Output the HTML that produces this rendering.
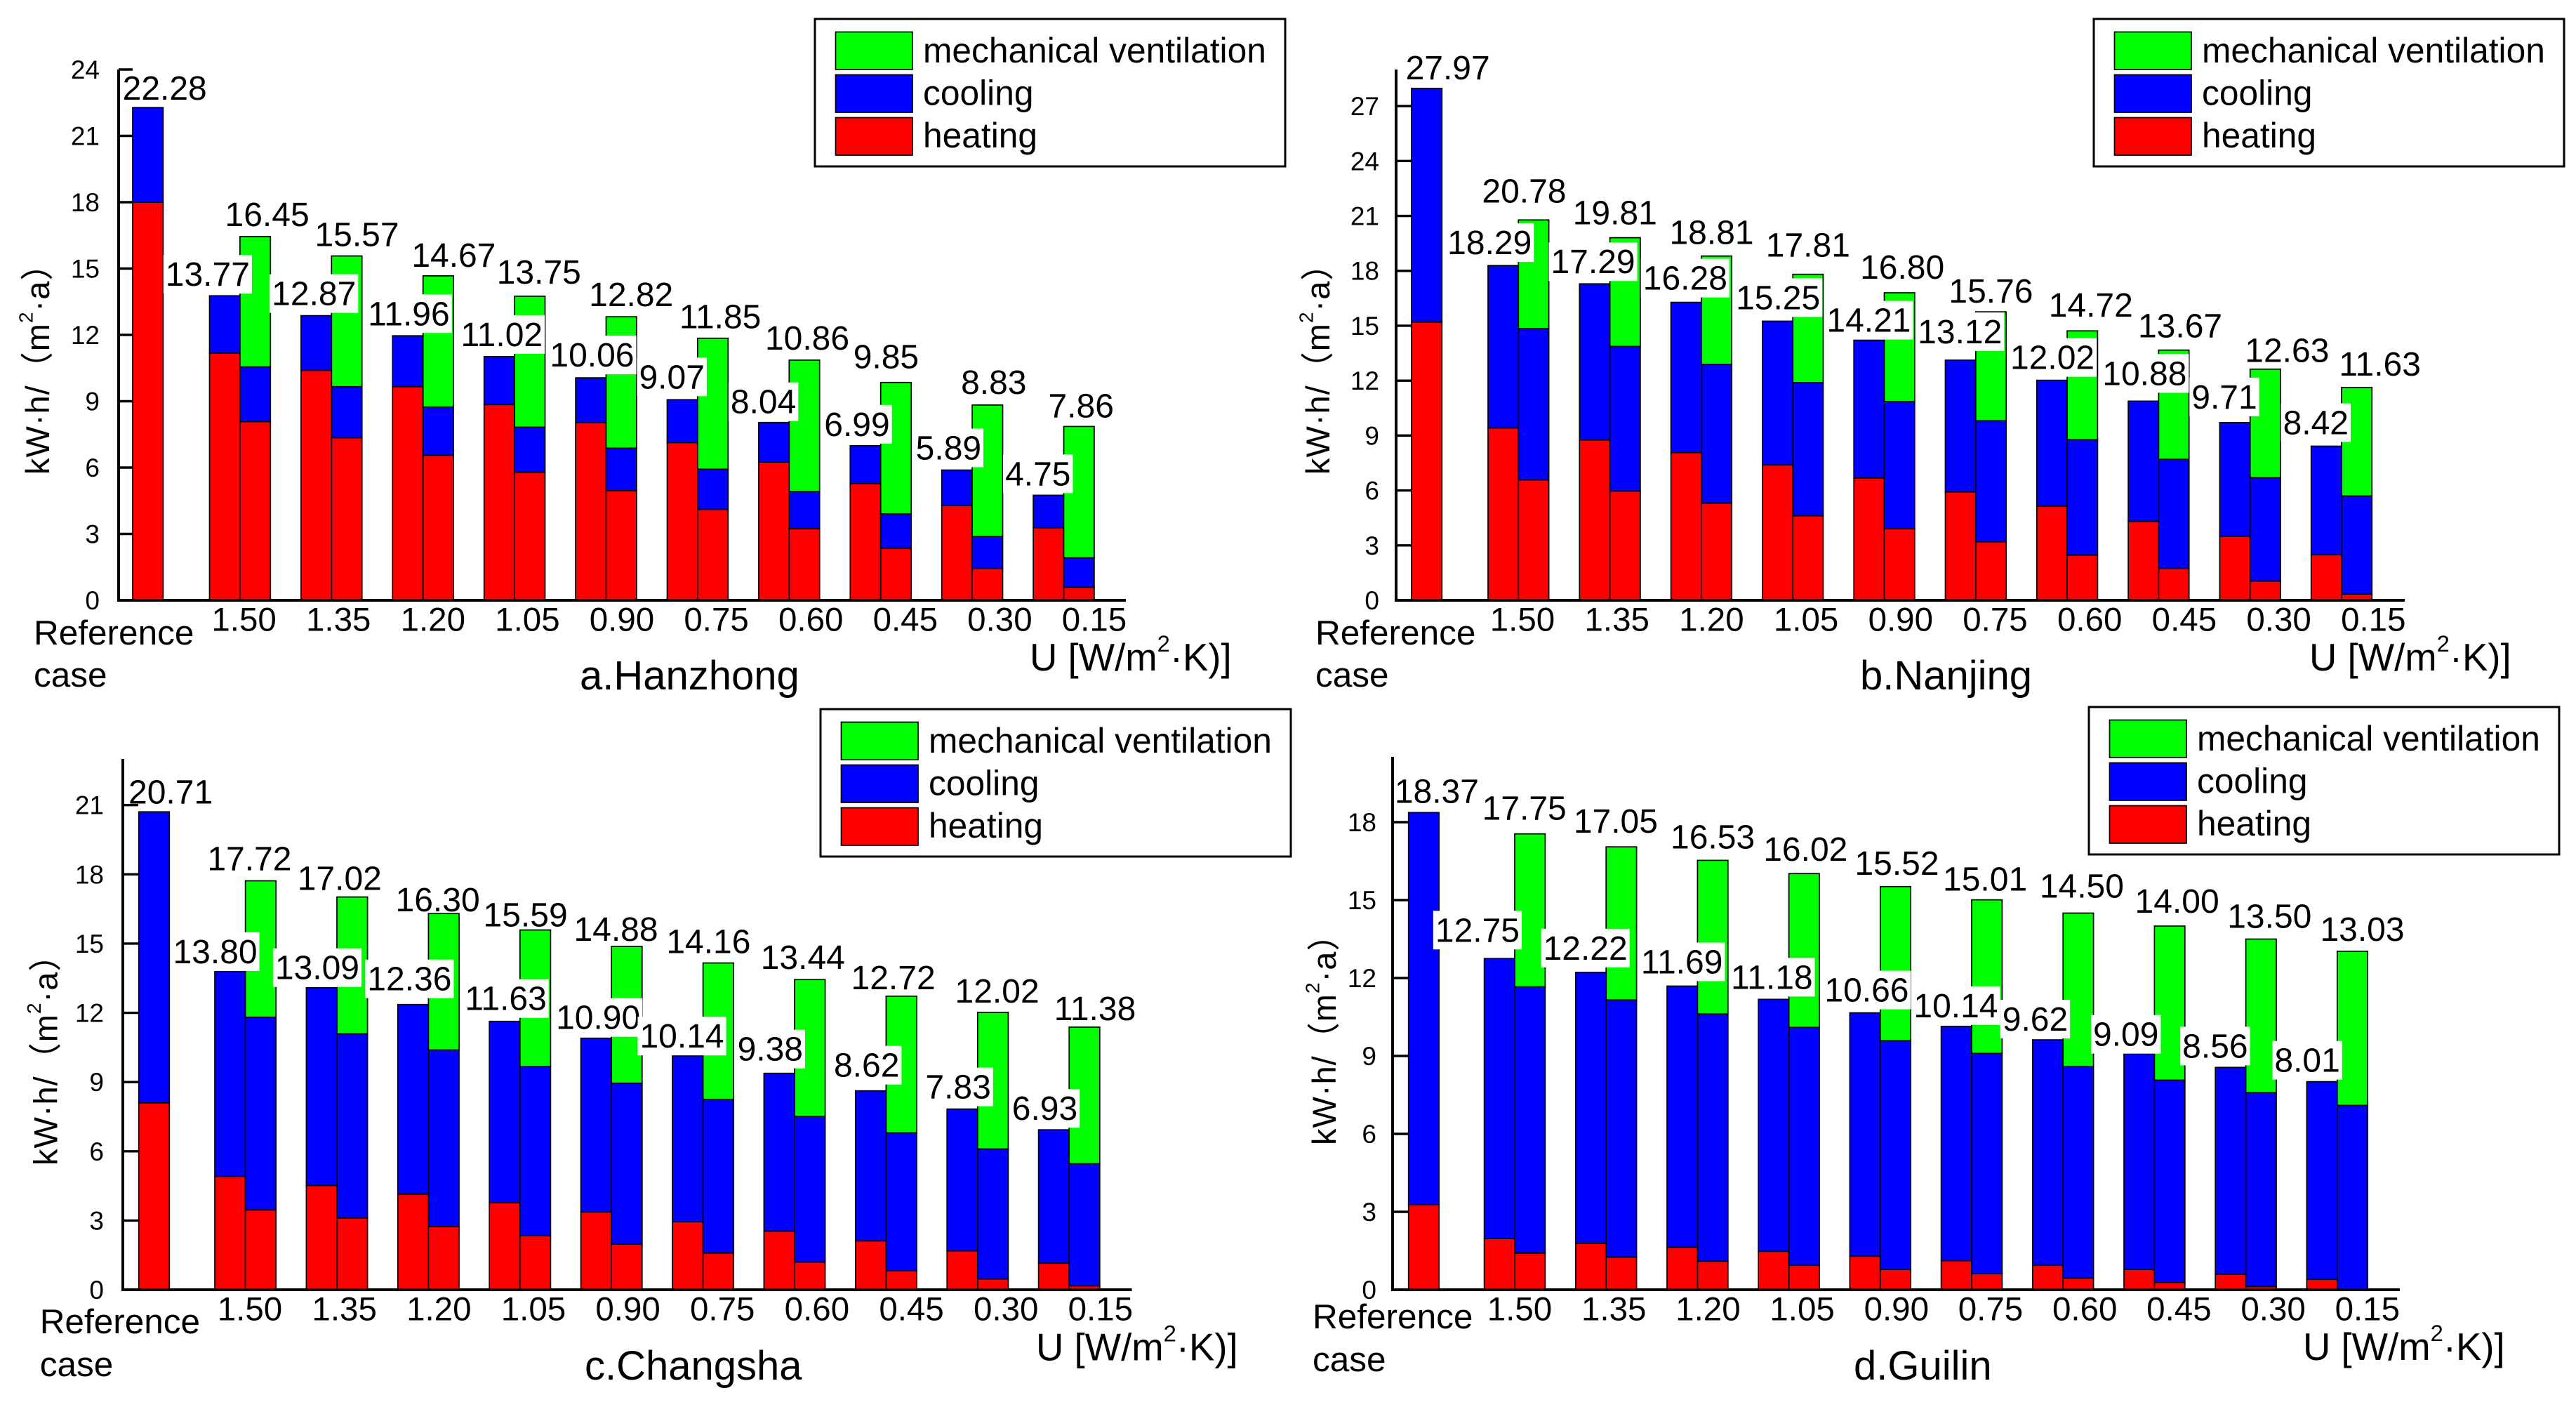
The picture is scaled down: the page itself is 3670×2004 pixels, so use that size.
<!DOCTYPE html>
<html lang="en">
<head>
<meta charset="utf-8">
<title>Energy demand by U-value in four cities</title>
<style>
html,body{margin:0;padding:0;background:#fff;width:3670px;height:2004px;overflow:hidden}
svg{display:block}
text{font-family:"Liberation Sans","Noto Sans CJK SC",sans-serif;fill:#000}
</style>
</head>
<body>
<svg id="figure" xmlns="http://www.w3.org/2000/svg" width="3670" height="2004" viewBox="0 0 3670 2004"></svg>
<script>
// ---------- shared categories ----------
const uCategories = ['1.50','1.35','1.20','1.05','0.90','0.75','0.60','0.45','0.30','0.15'];

// ---------- a. Hanzhong ----------
const hanzhongTicks = [0,3,6,9,12,15,18,21,24];
const hanzhongRefHeating = 18.00;
const hanzhongRefCooling = 4.28;
const hanzhongRefLabel = '22.28';
const hanzhongLeftHeating = [11.17,10.40,9.66,8.85,8.04,7.13,6.25,5.28,4.29,3.28];
const hanzhongLeftCooling = [2.60,2.47,2.30,2.17,2.02,1.94,1.79,1.71,1.60,1.47];
const hanzhongLeftLabels = ['13.77','12.87','11.96','11.02','10.06','9.07','8.04','6.99','5.89','4.75'];
const hanzhongRightHeating = [8.08,7.35,6.56,5.79,4.96,4.11,3.24,2.35,1.44,0.59];
const hanzhongRightCooling = [2.47,2.31,2.18,2.04,1.92,1.82,1.68,1.56,1.45,1.33];
const hanzhongRightVentilation = [5.90,5.91,5.93,5.92,5.94,5.92,5.94,5.94,5.94,5.94];
const hanzhongRightLabels = ['16.45','15.57','14.67','13.75','12.82','11.85','10.86','9.85','8.83','7.86'];

// ---------- b. Nanjing ----------
const nanjingTicks = [0,3,6,9,12,15,18,21,24,27];
const nanjingRefHeating = 15.20;
const nanjingRefCooling = 12.77;
const nanjingRefLabel = '27.97';
const nanjingLeftHeating = [9.42,8.76,8.07,7.41,6.68,5.92,5.14,4.31,3.50,2.50];
const nanjingLeftCooling = [8.87,8.53,8.21,7.84,7.53,7.20,6.88,6.57,6.21,5.92];
const nanjingLeftLabels = ['18.29','17.29','16.28','15.25','14.21','13.12','12.02','10.88','9.71','8.42'];
const nanjingRightHeating = [6.58,5.97,5.31,4.62,3.91,3.20,2.47,1.74,1.05,0.34];
const nanjingRightCooling = [8.27,7.90,7.58,7.27,6.95,6.61,6.31,5.97,5.65,5.36];
const nanjingRightVentilation = [5.93,5.94,5.92,5.92,5.94,5.95,5.94,5.96,5.93,5.93];
const nanjingRightLabels = ['20.78','19.81','18.81','17.81','16.80','15.76','14.72','13.67','12.63','11.63'];

// ---------- c. Changsha ----------
const changshaTicks = [0,3,6,9,12,15,18,21];
const changshaRefHeating = 8.10;
const changshaRefCooling = 12.61;
const changshaRefLabel = '20.71';
const changshaLeftHeating = [4.91,4.52,4.14,3.77,3.38,2.95,2.54,2.12,1.69,1.15];
const changshaLeftCooling = [8.89,8.57,8.22,7.86,7.52,7.19,6.84,6.50,6.14,5.78];
const changshaLeftLabels = ['13.80','13.09','12.36','11.63','10.90','10.14','9.38','8.62','7.83','6.93'];
const changshaRightHeating = [3.46,3.11,2.74,2.35,1.98,1.59,1.20,0.83,0.47,0.17];
const changshaRightCooling = [8.35,7.98,7.65,7.32,6.97,6.66,6.31,5.97,5.63,5.29];
const changshaRightVentilation = [5.91,5.93,5.91,5.92,5.93,5.91,5.93,5.92,5.92,5.92];
const changshaRightLabels = ['17.72','17.02','16.30','15.59','14.88','14.16','13.44','12.72','12.02','11.38'];

// ---------- d. Guilin ----------
const guilinTicks = [0,3,6,9,12,15,18];
const guilinRefHeating = 3.28;
const guilinRefCooling = 15.09;
const guilinRefLabel = '18.37';
const guilinLeftHeating = [1.97,1.79,1.64,1.48,1.29,1.12,0.95,0.78,0.59,0.40];
const guilinLeftCooling = [10.78,10.43,10.05,9.70,9.37,9.02,8.67,8.31,7.97,7.61];
const guilinLeftLabels = ['12.75','12.22','11.69','11.18','10.66','10.14','9.62','9.09','8.56','8.01'];
const guilinRightHeating = [1.41,1.26,1.10,0.95,0.78,0.62,0.45,0.28,0.12,0];
const guilinRightCooling = [10.25,9.90,9.52,9.15,8.81,8.48,8.14,7.79,7.47,7.10];
const guilinRightVentilation = [5.89,5.89,5.91,5.92,5.93,5.91,5.91,5.93,5.91,5.93];
const guilinRightLabels = ['17.75','17.05','16.53','16.02','15.52','15.01','14.50','14.00','13.50','13.03'];

// ---------- layout (separate from the data above) ----------
const SVG_NS = 'http://www.w3.org/2000/svg';
const root = document.getElementById('figure');
const COLORS = {heating:'#ff0000', cooling:'#0000ff', ventilation:'#00ff00'};
const VALUE_FONT = 48;

function make(tag, attrs, parent){
  const el = document.createElementNS(SVG_NS, tag);
  for(const k in attrs){ el.setAttribute(k, attrs[k]); }
  parent.appendChild(el);
  return el;
}
function makeText(content, x, y, size, anchor, parent){
  const t = make('text', {x:x, y:y, 'font-size':size, 'text-anchor':anchor}, parent);
  t.textContent = content;
  return t;
}
function superscriptText(parent, x, y, size, before, sup, after, transform){
  const t = make('text', {x:x, y:y, 'font-size':size}, parent);
  if(transform){ t.setAttribute('transform', transform); }
  const a = make('tspan', {}, t);
  a.textContent = before;
  const s = make('tspan', {dy:-size*0.5, 'font-size':size*0.6}, t);
  s.textContent = sup;
  const b = make('tspan', {dy:size*0.5}, t);
  b.textContent = after;
  return t;
}

function drawPanel(p){
  const g = make('g', {}, root);
  
  

  const yScale = v => p.baseY - v * p.unit;
  const xLeft = i => p.firstX + i * p.step;
  const xRight = i => xLeft(i) + p.barW;
  const xTickLabel = i => p.labelStart + i * p.labelStep;

  function stack(x, parts, name){
    let cum = 0;
    for(const part of parts){
      const top = yScale(cum + part.value);
      const bottom = yScale(cum);
      const r = make('rect', {x:x, y:top, width:p.barW, height:Math.max(0, bottom - top), fill:COLORS[part.kind], stroke:'#000', 'stroke-width':1.7}, g);
      
      
      cum += part.value;
    }
    return yScale(cum);
  }

  // bars
  const refTop = stack(p.refX, [{kind:'heating', value:p.refHeating},{kind:'cooling', value:p.refCooling}], 'bar-reference');
  const leftTops = [];
  const rightTops = [];
  uCategories.forEach((u, i) => {
    leftTops.push(stack(xLeft(i), [{kind:'heating', value:p.leftHeating[i]},{kind:'cooling', value:p.leftCooling[i]}], 'bar-u' + u + '-left'));
    rightTops.push(stack(xRight(i), [{kind:'heating', value:p.rightHeating[i]},{kind:'cooling', value:p.rightCooling[i]},{kind:'ventilation', value:p.rightVentilation[i]}], 'bar-u' + u + '-right'));
  });

  // axes
  const yAxis = make('line', {x1:p.axisX, y1:p.topY, x2:p.axisX, y2:p.baseY + 2, stroke:'#000', 'stroke-width':4}, g);
  
  
  const xAxis = make('line', {x1:p.axisX - 2, y1:p.baseY, x2:p.axisEnd, y2:p.baseY, stroke:'#000', 'stroke-width':4}, g);
  
  

  p.ticks.forEach(v => {
    const y = yScale(v);
    const tick = make('line', {x1:p.axisX, y1:y, x2:p.axisX + p.tickLen, y2:y, stroke:'#000', 'stroke-width':3.4}, g);
    
    
    const lab = makeText(String(v), p.tickLabelX, y + 13, 37, 'end', g);
    
    
  });

  // x tick labels
  uCategories.forEach((u, i) => {
    const lab = makeText(u, xTickLabel(i), p.baseY + 43.5, 47.5, 'middle', g);
    
    
  });

  // value labels on the reference bar and the right bars (no backing)
  const refLab = makeText(p.refLabel, p.refX + p.barW / 2 + p.refDx, refTop - p.refGap, VALUE_FONT, 'middle', g);
  
  
  uCategories.forEach((u, i) => {
    const lab = makeText(p.rightLabels[i], xRight(i) + p.barW / 2 + p.rightDx[i], rightTops[i] - p.rightGap[i], VALUE_FONT, 'middle', g);
    
    
  });

  // value labels on the left bars (white backing)
  uCategories.forEach((u, i) => {
    const base = leftTops[i] - p.leftGap[i];
    const lab = makeText(p.leftLabels[i], xRight(i) + p.leftDx[i], base, VALUE_FONT, 'end', g);
    
    
    const w = lab.getComputedTextLength();
    const backing = make('rect', {x:xRight(i) + p.leftDx[i] - w - 3, y:base - 44, width:w + 6, height:55, fill:'#fff'}, g);
    
    
    g.insertBefore(backing, lab);
  });

  // reference case label
  const ref1 = makeText('Reference', p.refTextX - 2, p.refTextY1, 49.5, 'start', g);
  
  
  const ref2 = makeText('case', p.refTextX - 2, p.refTextY2, 49.5, 'start', g);
  
  

  // panel title
  const title = makeText(p.title, p.titleX - 2, p.titleY, 58, 'start', g);
  
  

  // x axis title
  const xt = superscriptText(g, p.xTitleX, p.xTitleY, 54.5, 'U [W/m', '2', '·K)]');
  
  

  // y axis title
  const yt = superscriptText(g, p.yTitleX, p.yTitleY, 47, 'kW·h/（m', '2', '·a）', 'rotate(-90 ' + p.yTitleX + ' ' + p.yTitleY + ')');
  yt.setAttribute('letter-spacing', '1');
  
  

  // legend
  const lg = make('g', {}, g);
  
  
  const box = make('rect', {x:p.legX, y:p.legY, width:670, height:210, fill:'#fff', stroke:'#000', 'stroke-width':3}, lg);
  
  
  const entries = [
    {label:'mechanical ventilation', kind:'ventilation'},
    {label:'cooling', kind:'cooling'},
    {label:'heating', kind:'heating'}
  ];
  entries.forEach((e, k) => {
    const top = p.legY + 18.5 + k * 61;
    const sw = make('rect', {x:p.legX + 29.5, y:top, width:109.5, height:53.5, fill:COLORS[e.kind], stroke:'#000', 'stroke-width':1.7}, lg);
    
    
    const tx = makeText(e.label, p.legX + 154, p.legY + 62 + k * 60.5, 49.7, 'start', lg);
    
    
  });
}

drawPanel({
  id:'hanzhong', title:'a.Hanzhong', ticks:hanzhongTicks,
  refHeating:hanzhongRefHeating, refCooling:hanzhongRefCooling, refLabel:hanzhongRefLabel,
  leftHeating:hanzhongLeftHeating, leftCooling:hanzhongLeftCooling, leftLabels:hanzhongLeftLabels,
  rightHeating:hanzhongRightHeating, rightCooling:hanzhongRightCooling, rightVentilation:hanzhongRightVentilation, rightLabels:hanzhongRightLabels,
  axisX:169, baseY:855, topY:99, unit:31.5, axisEnd:1604, tickLen:20, tickLabelX:142,
  refX:189, firstX:298.5, step:130.4, barW:43.4,
  labelStart:347.6, labelStep:134.6,
  refDx:24, refGap:11,
  leftDx:[14,35,38,40,40,10,10,13,13,10], leftGap:[14,15,15,15,16,16,13,14,15,14],
  rightDx:[17,14.5,22,13,14,10.5,4,-14,9,3], rightGap:[15,14,13,18,15,14,15,20,16,13],
  refTextX:50, refTextY1:918, refTextY2:978,
  titleX:828, titleY:982, xTitleX:1467, xTitleY:955, yTitleX:70, yTitleY:676,
  legX:1161, legY:27
});
drawPanel({
  id:'nanjing', title:'b.Nanjing', ticks:nanjingTicks,
  refHeating:nanjingRefHeating, refCooling:nanjingRefCooling, refLabel:nanjingRefLabel,
  leftHeating:nanjingLeftHeating, leftCooling:nanjingLeftCooling, leftLabels:nanjingLeftLabels,
  rightHeating:nanjingRightHeating, rightCooling:nanjingRightCooling, rightVentilation:nanjingRightVentilation, rightLabels:nanjingRightLabels,
  axisX:1989, baseY:855, topY:99, unit:26.07, axisEnd:3426, tickLen:22, tickLabelX:1965,
  refX:2011, firstX:2120, step:130.3, barW:43.3,
  labelStart:2169, labelStep:134.7,
  refDx:30, refGap:13,
  leftDx:[19,36,37,39,38,37.5,39,40,10,10], leftGap:[16,15,18,17,12,24,16,23,20,17],
  rightDx:[-13.5,-14.5,-7,0,4,0,12,9,31,33], rightGap:[25,19,17,25,20,13,20,18,10,17],
  refTextX:1876, refTextY1:918, refTextY2:978,
  titleX:2652, titleY:982, xTitleX:3290, xTitleY:955, yTitleX:1894, yTitleY:676,
  legX:2983, legY:27
});
drawPanel({
  id:'changsha', title:'c.Changsha', ticks:changshaTicks,
  refHeating:changshaRefHeating, refCooling:changshaRefCooling, refLabel:changshaRefLabel,
  leftHeating:changshaLeftHeating, leftCooling:changshaLeftCooling, leftLabels:changshaLeftLabels,
  rightHeating:changshaRightHeating, rightCooling:changshaRightCooling, rightVentilation:changshaRightVentilation, rightLabels:changshaRightLabels,
  axisX:175, baseY:1837, topY:1081, unit:32.87, axisEnd:1612.5, tickLen:22, tickLabelX:148,
  refX:197.7, firstX:306, step:130.4, barW:43.6,
  labelStart:356, labelStep:134.65,
  refDx:23.6, refGap:12,
  leftDx:[17,32,33,38,41,30,12,19,19,12], leftGap:[11.5,12,20,16,13,11.5,18,20,15,14],
  rightDx:[-16,-18,-8.6,-14,-15.5,-14,-10,-11.6,6,15], rightGap:[15,10,3,5,8,14,15,10,14,10],
  refTextX:58.7, refTextY1:1899, refTextY2:1960,
  titleX:835, titleY:1965, xTitleX:1476, xTitleY:1937.5, yTitleX:81.6, yTitleY:1660,
  legX:1169, legY:1010
});
drawPanel({
  id:'guilin', title:'d.Guilin', ticks:guilinTicks,
  refHeating:guilinRefHeating, refCooling:guilinRefCooling, refLabel:guilinRefLabel,
  leftHeating:guilinLeftHeating, leftCooling:guilinLeftCooling, leftLabels:guilinLeftLabels,
  rightHeating:guilinRightHeating, rightCooling:guilinRightCooling, rightVentilation:guilinRightVentilation, rightLabels:guilinRightLabels,
  axisX:1984, baseY:1837, topY:1078, unit:37, axisEnd:3419, tickLen:22, tickLabelX:1961,
  refX:2006.7, firstX:2114.6, step:130.2, barW:43.4,
  labelStart:2165, labelStep:134.2,
  refDx:18.5, refGap:14,
  leftDx:[7,30.5,36,34,40.7,37.5,7,6,3,4], leftGap:[24,18,18,15,16,13,13,11,14,14],
  rightDx:[-8,-8,0,2,2,-2.6,5,10.5,12,14], rightGap:[20,20,17,18.5,17,13,22,19,16,15],
  refTextX:1872, refTextY1:1892, refTextY2:1953,
  titleX:2643, titleY:1965, xTitleX:3281, xTitleY:1937, yTitleX:1903, yTitleY:1631,
  legX:2976, legY:1007
});
</script>
</body>
</html>
